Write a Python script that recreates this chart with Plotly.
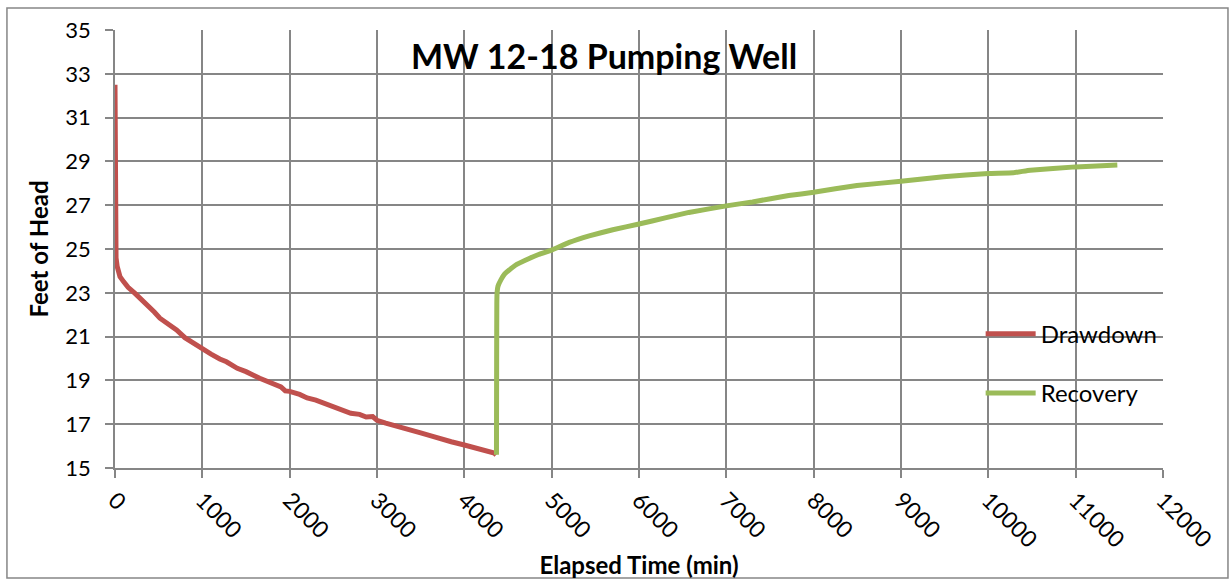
import plotly.graph_objects as go

# ---- data ----
drawdown_time = [0, 1, 3, 6, 12, 25, 57, 100, 150, 229, 300, 380, 450, 514, 600, 705,
                 800, 900, 1000, 1100, 1200, 1276, 1400, 1500, 1657, 1750, 1850, 1900,
                 1950, 2000, 2114, 2200, 2300, 2400, 2495, 2600, 2700, 2800, 2876, 2950,
                 3000, 3100, 3267, 3400, 3500, 3648, 3750, 3850, 4000, 4100, 4200, 4343, 4365]
drawdown_head = [32.5, 29.0, 26.0, 25.0, 24.6, 24.2, 23.74, 23.5, 23.25, 22.97, 22.72, 22.4,
                 22.12, 21.84, 21.6, 21.3, 20.95, 20.7, 20.39, 20.2, 19.98, 19.85, 19.55,
                 19.4, 19.1, 18.95, 18.8, 18.7, 18.52, 18.5, 18.36, 18.2, 18.1, 17.95, 17.86,
                 17.7, 17.5, 17.45, 17.33, 17.35, 17.18, 17.05, 16.88, 16.75, 16.6, 16.43,
                 16.3, 16.2, 16.05, 15.95, 15.85, 15.68, 15.6]

recovery_time = [4368, 4370, 4372, 4375, 4385, 4420, 4460, 4514, 4600, 4743, 4850, 5000,
                 5200, 5430, 5700, 6000, 6300, 6571, 7000, 7300, 7714, 8000, 8495, 9000,
                 9486, 10000, 10286, 10480, 11000, 11477]
recovery_head = [15.6, 20.0, 22.5, 23.0, 23.3, 23.6, 23.85, 24.04, 24.3, 24.57, 24.75, 24.95,
                 25.3, 25.6, 25.88, 26.14, 26.42, 26.67, 26.97, 27.15, 27.44, 27.59, 27.9,
                 28.09, 28.3, 28.45, 28.48, 28.6, 28.75, 28.83]

x_ticks = list(range(0, 12001, 1000))
y_ticks = list(range(15, 36, 2))

FONT = "Lato"
GRID = "#868686"

fig = go.Figure()
fig.add_trace(go.Scatter(x=drawdown_time, y=drawdown_head, mode="lines", name="Drawdown",
                         line=dict(color="#C0504D", width=5), legendgroup="a"))
fig.add_trace(go.Scatter(x=recovery_time, y=recovery_head, mode="lines", name="Recovery",
                         line=dict(color="#9BBB59", width=5, shape="spline", smoothing=0.3),
                         legendgroup="b"))

fig.update_layout(
    width=1231, height=581,
    margin=dict(l=115, r=68, t=30, b=113, autoexpand=False),
    paper_bgcolor="white", plot_bgcolor="white",
    font=dict(family=FONT, color="black"),
    title=dict(text="<b>MW 12-18 Pumping Well</b>", x=0.4907, xanchor="center",
               y=1 - 57 / 581, yanchor="middle", yref="container",
               font=dict(size=34, family=FONT, color="black")),
    legend=dict(x=0.826, y=0.357, xanchor="left", yanchor="top", bgcolor="rgba(0,0,0,0)",
                font=dict(size=24, family=FONT), traceorder="grouped", tracegroupgap=25,
                itemwidth=50),
    xaxis=dict(range=[0, 12000], tickvals=x_ticks, ticktext=[str(v) for v in x_ticks],
               tickangle=45, showgrid=True, gridcolor=GRID, gridwidth=1.6,
               showline=True, linecolor=GRID, linewidth=1.6, mirror=False,
               ticks="outside", ticklen=8, tickcolor=GRID, tickwidth=1.6, automargin=False,
               tickfont=dict(size=23, family=FONT), zeroline=False,
               title=dict(text="<b>Elapsed Time (min)</b>", font=dict(size=24, family=FONT),
                          standoff=5)),
    yaxis=dict(range=[15, 35], tickvals=y_ticks, showgrid=True, gridcolor=GRID, gridwidth=1.6,
               showline=True, linecolor=GRID, linewidth=1.6, automargin=False,
               ticks="outside", ticklen=8, tickcolor=GRID, tickwidth=1.6,
               tickfont=dict(size=22, family=FONT), zeroline=False, ticklabelstandoff=10,
               title=dict(text="<b>Feet of Head</b>", font=dict(size=24, family=FONT),
                          standoff=10)),
    shapes=[dict(type="rect", xref="paper", yref="paper", x0=-0.1031, x1=1.062,
                 y0=-0.2511, y1=1.0502, line=dict(color=GRID, width=1.5), layer="below")],
)

fig.write_html("out.html", config={"displayModeBar": False},
               post_script="document.body.style.margin='0';document.body.style.padding='0';")
